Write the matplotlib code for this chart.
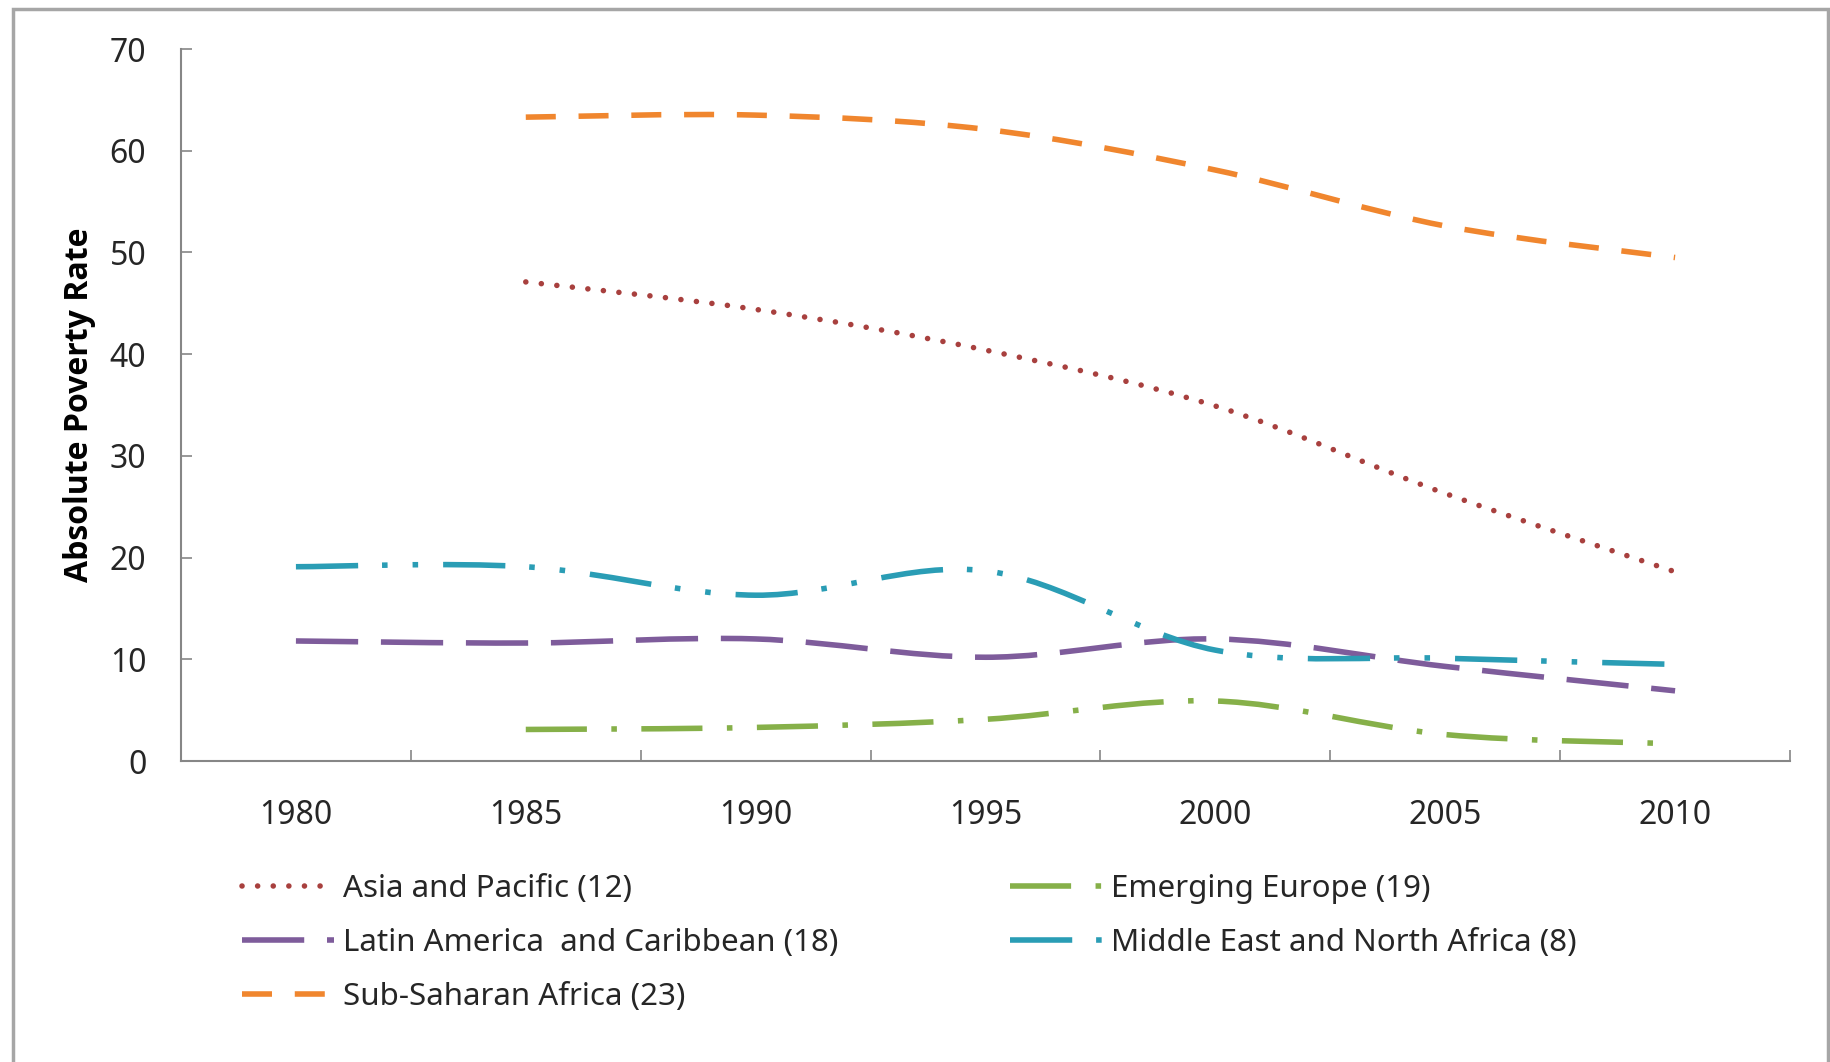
import numpy as np
import matplotlib
matplotlib.use("Agg")
import matplotlib.pyplot as plt
from matplotlib.path import Path
from matplotlib.patches import PathPatch, Rectangle
from matplotlib.lines import Line2D

plt.rcParams['font.family'] = ['Noto Sans', 'DejaVu Sans']

years = [1980, 1985, 1990, 1995, 2000, 2005, 2010]
nan = np.nan
asia_pacific = [nan, 47.1, 44.4, 40.4, 34.9, 26.3, 18.6]
latin_america = [11.8, 11.6, 12.0, 10.2, 12.0, 9.3, 6.9]
sub_saharan = [nan, 63.3, 63.5, 62.1, 58.1, 52.6, 49.5]
emerging_europe = [nan, 3.1, 3.3, 4.1, 5.9, 2.6, 1.7]
mena = [19.1, 19.1, 16.3, 18.7, 10.9, 10.1, 9.5]

labels = ["Asia and Pacific (12)", "Latin America  and Caribbean (18)",
          "Sub-Saharan Africa (23)", "Emerging Europe (19)",
          "Middle East and North Africa (8)"]
series = [asia_pacific, latin_america, sub_saharan, emerging_europe, mena]
colors = ['#A8403E', '#7E5C9B', '#F0862E', '#86B049', '#2A9DB5']
widths = [4.0, 4.0, 4.0, 4.0, 4.0]
styles = [(0, (0.01, 2.8)),
          (0, (11.2, 4.1)),
          (0, (5.4, 4.1)),
          (0, (11.0, 4.4, 1.0, 4.4)),
          (0, (11.2, 4.3, 1.0, 4.5, 1.0, 4.5))]
caps = ['round', 'butt', 'butt', 'butt', 'butt']

W, H = 1831, 1062
fig = plt.figure(figsize=(W / 100, H / 100), dpi=100)
ax = fig.add_axes([181 / W, 1 - 761 / H, (1790 - 181) / W, (761 - 49) / H])

xpos = np.arange(len(years))


def smooth_path(x, y):
    pts = np.array([(a, b) for a, b in zip(x, y) if not np.isnan(b)], float)
    n = len(pts)
    verts = [pts[0]]
    codes = [Path.MOVETO]
    for i in range(n - 1):
        p0 = pts[i - 1] if i > 0 else pts[i]
        p1 = pts[i]
        p2 = pts[i + 1]
        p3 = pts[i + 2] if i + 2 < n else pts[i + 1]
        c1 = p1 + (p2 - p0) / 6.0
        c2 = p2 - (p3 - p1) / 6.0
        verts += [c1, c2, p2]
        codes += [Path.CURVE4] * 3
    return Path(np.array(verts), codes)


for vals, c, lw, ls, cap in zip(series, colors, widths, styles, caps):
    patch = PathPatch(smooth_path(xpos, np.array(vals, float)), fill=False,
                      edgecolor=c, linewidth=lw, linestyle=ls, capstyle=cap,
                      joinstyle='round')
    ax.add_patch(patch)

ax.set_xlim(-0.5, len(years) - 0.5)
ax.set_ylim(0, 70)
ax.set_yticks(np.arange(0, 71, 10))
ax.set_xticks(np.arange(-0.5, len(years), 1.0))
ax.set_xticklabels([])
ax.set_xticks(xpos, minor=True)
ax.set_xticklabels([str(y) for y in years], minor=True)

for s in ['top', 'right']:
    ax.spines[s].set_visible(False)
for s in ['left', 'bottom']:
    ax.spines[s].set_color('#868686')
    ax.spines[s].set_linewidth(1.5)

ax.tick_params(axis='y', direction='in', length=8, width=1.2, color='#868686',
               labelsize=23, pad=25, labelcolor='#262626')
ax.tick_params(axis='x', which='major', direction='in', length=8, width=1.2,
               color='#868686')
ax.tick_params(axis='x', which='minor', length=0, labelsize=23, pad=27,
               labelcolor='#262626')
ax.set_ylabel("Absolute Poverty Rate", fontsize=23, fontweight='bold',
              family=['Open Sans', 'Liberation Sans'],
              labelpad=10, color='#000000')

handles = [Line2D([0], [0], color=c, lw=lw, linestyle=ls,
                  dash_capstyle=cap, solid_capstyle='butt')
           for c, lw, ls, cap in zip(colors, widths, styles, caps)]

common = dict(loc='upper left', frameon=False, fontsize=22.5, borderpad=0,
              borderaxespad=0, handlelength=2.95, handletextpad=0.28,
              labelspacing=0.77)
leg1 = fig.legend(handles[:3], labels[:3],
                  bbox_to_anchor=(242 / W, 1 - 874 / H), **common)
leg2 = fig.legend(handles[3:], labels[3:],
                  bbox_to_anchor=(1010 / W, 1 - 874 / H), **common)
for leg in (leg1, leg2):
    for t in leg.get_texts():
        t.set_color('#262626')

frame = Rectangle((13 / W, -0.02), (1828 - 13) / W, 1 - 9 / H + 0.02,
                  transform=fig.transFigure, fill=False,
                  edgecolor='#A6A6A6', linewidth=2.5)
fig.patches.append(frame)

fig.savefig("out.png", dpi=100, facecolor='white')
